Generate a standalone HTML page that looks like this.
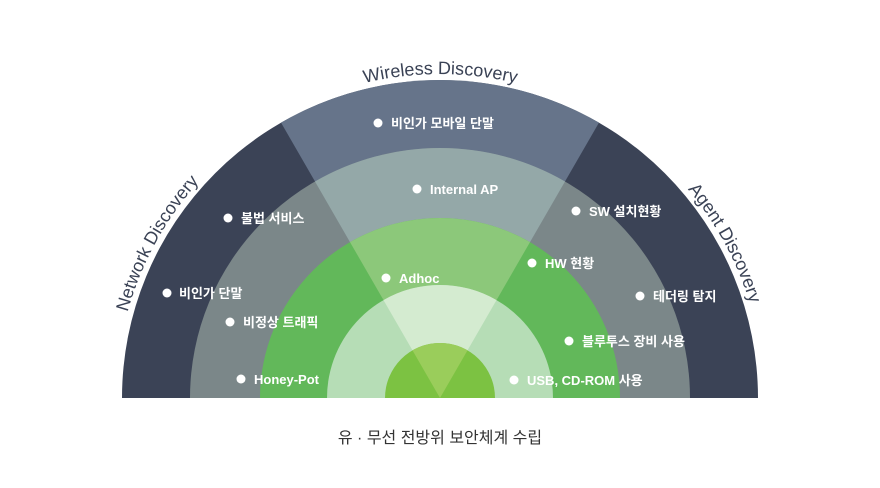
<!DOCTYPE html>
<html><head><meta charset="utf-8"><style>
html,body{margin:0;padding:0;background:#fff;}
svg{display:block;}
.l{font-family:"Liberation Sans","Noto Sans CJK KR",sans-serif;font-size:13px;fill:#fff;font-weight:bold;}
.t{font-family:"Liberation Sans","Noto Sans CJK KR",sans-serif;font-size:18px;fill:#3a4255;}
</style></head><body>
<svg width="880" height="488" viewBox="0 0 880 488">
<defs>
<path id="arc" d="M 116 398 A 324 324 0 0 1 764 398"/>
</defs>
<path d="M122 398 A318 318 0 0 1 758 398 Z" fill="#3b4356"/>
<path d="M440 398 L281 122.6 A318 318 0 0 1 599 122.6 Z" fill="#66748a"/>
<path d="M190 398 A250 250 0 0 1 690 398 Z" fill="#7b8789"/>
<path d="M440 398 L315 181.5 A250 250 0 0 1 565 181.5 Z" fill="#94a8a8"/>
<path d="M260 398 A180 180 0 0 1 620 398 Z" fill="#62b85a"/>
<path d="M440 398 L350 242.1 A180 180 0 0 1 530 242.1 Z" fill="#8cc87a"/>
<path d="M327 398 A113 113 0 0 1 553 398 Z" fill="#b6ddb6"/>
<path d="M440 398 L383.5 300.1 A113 113 0 0 1 496.5 300.1 Z" fill="#d4ebd0"/>
<path d="M385 398 A55 55 0 0 1 495 398 Z" fill="#7cc242"/>
<path d="M440 398 L412.5 350.4 A55 55 0 0 1 467.5 350.4 Z" fill="#9acd5b"/>
<text class="t"><textPath href="#arc" startOffset="162" text-anchor="middle">Network Discovery</textPath></text>
<text class="t"><textPath href="#arc" startOffset="509" text-anchor="middle">Wireless Discovery</textPath></text>
<text class="t"><textPath href="#arc" startOffset="856" text-anchor="middle">Agent Discovery</textPath></text>
<g fill="#fff">
<circle cx="378" cy="123" r="4.5"/><circle cx="417" cy="189" r="4.5"/>
<circle cx="228" cy="218" r="4.5"/><circle cx="576" cy="211" r="4.5"/>
<circle cx="532" cy="263" r="4.5"/><circle cx="386" cy="278" r="4.5"/>
<circle cx="167" cy="293" r="4.5"/><circle cx="640" cy="296" r="4.5"/>
<circle cx="230" cy="322" r="4.5"/><circle cx="569" cy="341" r="4.5"/>
<circle cx="241" cy="379" r="4.5"/><circle cx="514" cy="380" r="4.5"/>
</g>
<text class="l" x="391" y="128">비인가 모바일 단말</text>
<text class="l" x="430" y="194">Internal AP</text>
<text class="l" x="241" y="223">불법 서비스</text>
<text class="l" x="589" y="216">SW 설치현황</text>
<text class="l" x="545" y="268">HW 현황</text>
<text class="l" x="399" y="283">Adhoc</text>
<text class="l" x="179" y="298">비인가 단말</text>
<text class="l" x="653" y="301">테더링 탐지</text>
<text class="l" x="243" y="327">비정상 트래픽</text>
<text class="l" x="582" y="346">블루투스 장비 사용</text>
<text class="l" x="254" y="384">Honey-Pot</text>
<text class="l" x="527" y="385">USB, CD-ROM 사용</text>
<text x="440" y="443" text-anchor="middle" font-family="'Liberation Sans','Noto Sans CJK KR',sans-serif" font-size="16" fill="#333">유 · 무선 전방위 보안체계 수립</text>
</svg>
</body></html>
